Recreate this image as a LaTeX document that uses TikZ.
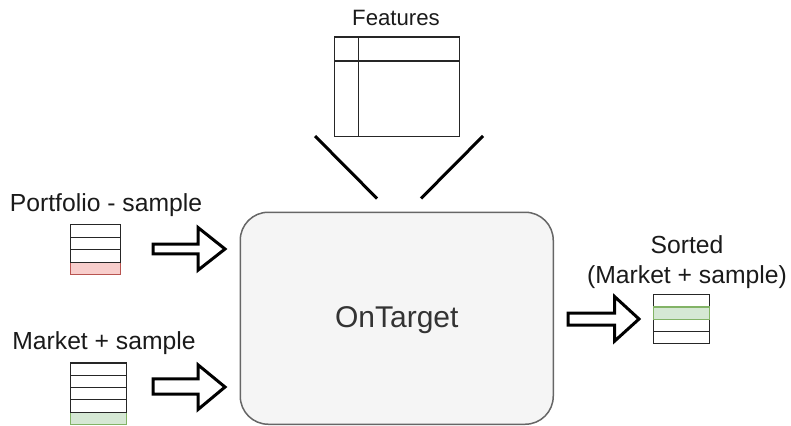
\documentclass[tikz,border=0pt]{standalone}
\usepackage{fontspec}
\setmainfont{Liberation Sans}
\definecolor{pinkfill}{HTML}{F8CECC}
\definecolor{pinkline}{HTML}{B85450}
\definecolor{greenfill}{HTML}{D5E8D4}
\definecolor{greenline}{HTML}{82B366}
\definecolor{boxfill}{HTML}{F5F5F5}
\definecolor{boxline}{HTML}{666666}
\definecolor{txt}{HTML}{1A1A1A}
\definecolor{boxtxt}{HTML}{333333}
\tikzset{
  cell/.style={draw=black!85, line width=1.2pt, fill=white, inner sep=0pt, anchor=north west},
  pinkcell/.style={cell, draw=pinkline, fill=pinkfill},
  greencell/.style={cell, draw=greenline, fill=greenfill},
  lbl/.style={text=txt, inner sep=0pt, font=\fontsize{24.7}{30}\selectfont, align=center},
  bigarrow/.style={draw=black, line width=3pt, fill=white, line join=miter},
  featline/.style={draw=black, line width=3pt},
  tabline/.style={draw=black!85, line width=1.2pt},
  mainbox/.style={draw=boxline, line width=1.5pt, fill=boxfill, rounded corners=28pt}
}
\begin{document}
\begin{tikzpicture}[x=1pt,y=-1pt]
\useasboundingbox (0,0) rectangle (791,425);
% main box
\node[mainbox, minimum width=313pt, minimum height=212pt, anchor=north west, inner sep=0pt] (ot) at (239.5,211.5) {};
\node[text=boxtxt, font=\fontsize{30}{34}\selectfont, inner sep=0pt] (otl) at ([yshift=-2pt]ot.center) {OnTarget};
% Features
\node[lbl, font=\fontsize{22.2}{26}\selectfont] (featl) at (396,18) {Features};
\node[tabline, draw, minimum width=124.5pt, minimum height=99pt, anchor=north west, inner sep=0pt] (feat) at (334,36.5) {};
\coordinate (fv1) at (358.5,36.5);
\coordinate (fv2) at (358.5,135.5);
\coordinate (fh1) at (334,61);
\coordinate (fh2) at (458.5,61);
\draw[tabline] (fv1) -- (fv2);
\draw[tabline] (fh1) -- (fh2);
\coordinate (fl1) at (315,136);
\coordinate (fl2) at (377,198.5);
\coordinate (fr1) at (483,136);
\coordinate (fr2) at (421,198.5);
\draw[featline] (fl1) -- (fl2);
\draw[featline] (fr1) -- (fr2);
% Portfolio - sample
\node[lbl] (portl) at (106,205) {Portfolio - sample};
\node[pinkcell, minimum width=50pt, minimum height=12.5pt] (p4) at (69.5,261.5) {};
\node[cell, minimum width=50pt, minimum height=12.5pt] (p1) at (69.5,224) {};
\node[cell, minimum width=50pt, minimum height=12.5pt] (p2) at (69.5,236.5) {};
\node[cell, minimum width=50pt, minimum height=12.5pt] (p3) at (69.5,249) {};
% Market + sample
\node[lbl] (markl) at (104,343) {Market + sample};
\node[greencell, minimum width=56pt, minimum height=12.3pt] (m5) at (70,411.5) {};
\node[cell, minimum width=56pt, minimum height=12.3pt] (m1) at (70,362.3) {};
\node[cell, minimum width=56pt, minimum height=12.3pt] (m2) at (70,374.6) {};
\node[cell, minimum width=56pt, minimum height=12.3pt] (m3) at (70,386.9) {};
\node[cell, minimum width=56pt, minimum height=12.3pt] (m4) at (70,399.2) {};
% Sorted
\node[lbl] (sortl) at (687,262.5) {Sorted\\(Market + sample)};
\node[cell, minimum width=56pt, minimum height=12.3pt] (s1) at (653,294) {};
\node[cell, minimum width=56pt, minimum height=12.3pt] (s3) at (653,318.6) {};
\node[cell, minimum width=56pt, minimum height=12.3pt] (s4) at (653,330.9) {};
\node[greencell, minimum width=56pt, minimum height=12.3pt] (s2) at (653,306.3) {};
% block arrows
\draw[bigarrow] (153,244.2) -- (198,244.2) -- (198,227.5) -- (225,249) -- (198,270.2) -- (198,253.8) -- (153,253.8) -- cycle;
\draw[bigarrow] (153,378.8) -- (198,378.8) -- (198,364.8) -- (225,387) -- (198,409.5) -- (198,394.2) -- (153,394.2) -- cycle;
\draw[bigarrow] (568,313.2) -- (614.5,313.2) -- (614.5,296.5) -- (639,319) -- (614.5,341.2) -- (614.5,325.2) -- (568,325.2) -- cycle;
\end{tikzpicture}
\end{document}
